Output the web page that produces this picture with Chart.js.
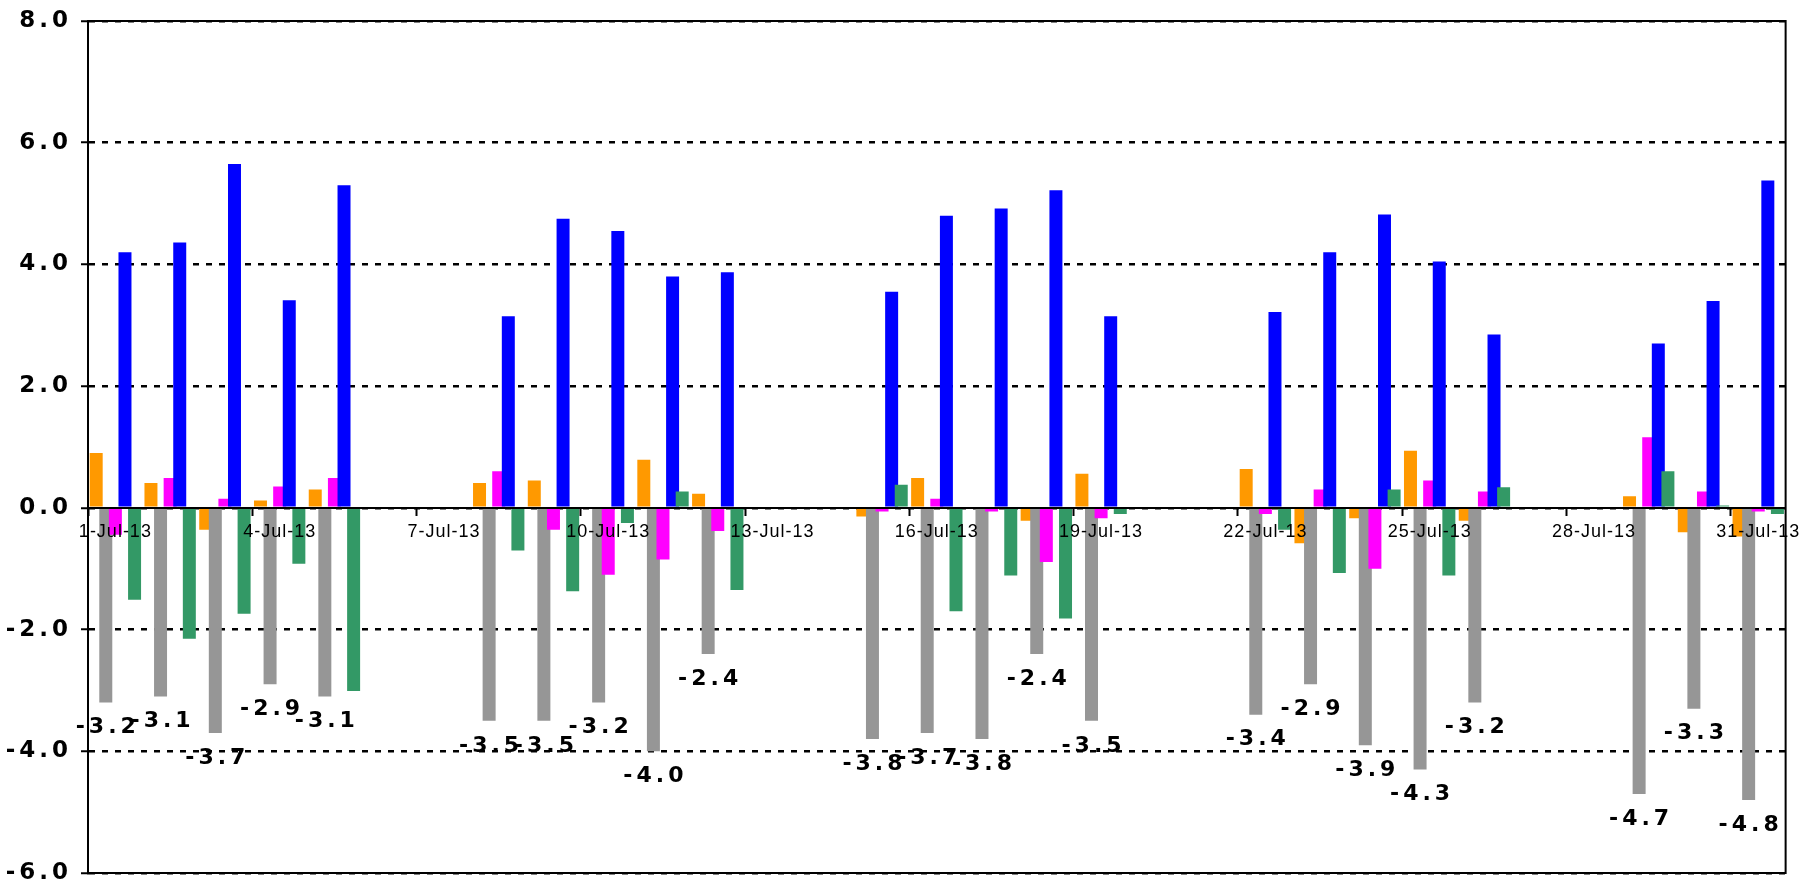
<!DOCTYPE html>
<html>
<head>
<meta charset="utf-8">
<script src="https://cdn.jsdelivr.net/npm/chart.js@4.4.1/dist/chart.umd.min.js"></script>
<style>
  html, body { margin: 0; padding: 0; background: #ffffff; }
  #wrap { width: 1802px; height: 884px; }
</style>
</head>
<body>
<div id="wrap"><canvas id="c" width="1802" height="884"></canvas></div>
<script>
// ---- Data ----
const dateLabels = [
  '1-Jul-13','2-Jul-13','3-Jul-13','4-Jul-13','5-Jul-13','6-Jul-13','7-Jul-13',
  '8-Jul-13','9-Jul-13','10-Jul-13','11-Jul-13','12-Jul-13','13-Jul-13','14-Jul-13',
  '15-Jul-13','16-Jul-13','17-Jul-13','18-Jul-13','19-Jul-13','20-Jul-13','21-Jul-13',
  '22-Jul-13','23-Jul-13','24-Jul-13','25-Jul-13','26-Jul-13','27-Jul-13','28-Jul-13',
  '29-Jul-13','30-Jul-13','31-Jul-13'
];
// weekends (6-7, 13-14, 20-21, 27-28 Jul) have no values
const orangeValues = [0.90, 0.41, -0.36, 0.12, 0.30, null, null,
  0.41, 0.45, 0.00, 0.79, 0.23, null, null,
  -0.14, 0.49, 0.00, -0.21, 0.56, null, null,
  0.64, -0.58, -0.17, 0.94, -0.21, null, null,
  0.19, -0.40, -0.47];
const grayValues = [-3.2, -3.1, -3.7, -2.9, -3.1, null, null,
  -3.5, -3.5, -3.2, -4.0, -2.4, null, null,
  -3.8, -3.7, -3.8, -2.4, -3.5, null, null,
  -3.4, -2.9, -3.9, -4.3, -3.2, null, null,
  -4.7, -3.3, -4.8];
const magentaValues = [-0.44, 0.49, 0.15, 0.35, 0.49, null, null,
  0.60, -0.36, -1.10, -0.85, -0.38, null, null,
  -0.06, 0.15, -0.06, -0.89, -0.17, null, null,
  -0.10, 0.30, -1.00, 0.45, 0.27, null, null,
  1.16, 0.27, -0.06];
const blueValues = [4.20, 4.36, 5.65, 3.41, 5.30, null, null,
  3.15, 4.75, 4.55, 3.80, 3.87, null, null,
  3.55, 4.80, 4.92, 5.22, 3.15, null, null,
  3.22, 4.20, 4.82, 4.05, 2.85, null, null,
  2.70, 3.40, 5.38];
const greenValues = [-1.51, -2.15, -1.74, -0.92, -3.01, null, null,
  -0.70, -1.37, -0.25, 0.27, -1.35, null, null,
  0.38, -1.70, -1.11, -1.82, -0.10, null, null,
  -0.36, -1.07, 0.30, -1.11, 0.34, null, null,
  0.60, 0.04, -0.10];
const yTickStep = 2;
const yMin = -6;
const yMax = 8;

// ---- Plugins ----
// Draw datasets in series order so that later series lie on top (as in the reference)
const drawOrderPlugin = {
  id: 'drawOrder',
  beforeDatasetsDraw(chart) {
    const metas = chart.getSortedVisibleDatasetMetas();
    for (const meta of metas) chart._drawDataset(meta);
    return false;
  }
};

// Letter spacing for axis labels
const spacingPlugin = {
  id: 'spacing',
  afterLayout(chart) {
    const cfg = { x: '1px', y: '4px' };
    Object.keys(cfg).forEach(id => {
      const s = chart.scales[id];
      if (!s || s._spacingWrapped) return;
      const orig = s.drawLabels;
      s.drawLabels = function (area) {
        const c = this.ctx;
        c.save();
        c.letterSpacing = cfg[id];
        orig.call(this, area);
        c.restore();
      };
      s._spacingWrapped = true;
    });
  }
};

// Value labels under the gray bars + plot frame
const labelFramePlugin = {
  id: 'labelFrame',
  afterDraw(chart) {
    const ctx = chart.ctx;
    const area = chart.chartArea;
    ctx.save();
    ctx.strokeStyle = '#000';
    ctx.lineWidth = 2;
    ctx.beginPath();
    ctx.moveTo(area.left, area.top);
    ctx.lineTo(area.right, area.top);
    ctx.lineTo(area.right, area.bottom);
    ctx.lineTo(area.left, area.bottom);
    ctx.stroke();
    ctx.restore();

    const idx = chart.data.datasets.findIndex(d => d.showLabels);
    if (idx < 0) return;
    const meta = chart.getDatasetMeta(idx);
    const data = chart.data.datasets[idx].data;
    ctx.save();
    ctx.letterSpacing = '4px';
    ctx.font = 'bold 22px "DejaVu Sans"';
    ctx.fillStyle = '#000';
    ctx.textAlign = 'center';
    ctx.textBaseline = 'middle';
    meta.data.forEach((el, i) => {
      const v = data[i];
      if (v === null || v === undefined) return;
      const off = v < 0 ? 25 : -25;
      ctx.fillText(v.toFixed(1), el.x + 2, el.y + off);
    });
    ctx.restore();
  }
};

const commonBar = { categoryPercentage: 0.876, barPercentage: 1.354, borderWidth: 0 };

new Chart(document.getElementById('c'), {
  type: 'bar',
  data: {
    labels: dateLabels,
    datasets: [
      Object.assign({ label: 'Orange', data: orangeValues, backgroundColor: '#FF9900' }, commonBar),
      Object.assign({ label: 'Gray', data: grayValues, backgroundColor: '#969696', showLabels: true }, commonBar),
      Object.assign({ label: 'Magenta', data: magentaValues, backgroundColor: '#FF00FF' }, commonBar),
      Object.assign({ label: 'Blue', data: blueValues, backgroundColor: '#0000FF' }, commonBar),
      Object.assign({ label: 'Green', data: greenValues, backgroundColor: '#339966' }, commonBar)
    ]
  },
  options: {
    responsive: false,
    animation: false,
    devicePixelRatio: 1,
    layout: { padding: { top: 21, right: 15, bottom: 11, left: 0 } },
    plugins: { legend: { display: false }, tooltip: { enabled: false } },
    scales: {
      x: {
        type: 'category',
        position: { y: 0 },
        offset: true,
        grid: {
          offset: true,
          drawOnChartArea: false,
          drawTicks: true,
          tickLength: 7,
          tickWidth: 2,
          tickColor: (c) => (c.index % 3 === 0 ? '#000' : 'rgba(0,0,0,0)'),
          z: 1
        },
        border: { display: true, color: '#000', width: 2, z: 1 },
        ticks: {
          z: 2,
          autoSkip: false,
          maxRotation: 0,
          minRotation: 0,
          padding: 6,
          color: '#000',
          font: { family: '"Liberation Sans", Arial, sans-serif', size: 18 },
          callback: (v, i) => (i % 3 === 0 ? dateLabels[i] : '')
        }
      },
      y: {
        min: yMin,
        max: yMax,
        ticks: {
          stepSize: yTickStep,
          padding: 9,
          color: '#000',
          font: { family: '"DejaVu Sans", sans-serif', size: 23, weight: 'bold', lineHeight: 0.1 },
          callback: (v) => Number(v).toFixed(1)
        },
        grid: {
          color: '#000',
          lineWidth: 2.5,
          drawTicks: true,
          tickLength: 7,
          tickWidth: 2,
          tickColor: '#000',
          tickBorderDash: []
        },
        border: { display: true, color: '#000', width: 2, dash: [6, 7], z: 1 },
        afterFit: (s) => { s.width = 88; }
      }
    }
  },
  plugins: [drawOrderPlugin, spacingPlugin, labelFramePlugin]
});
</script>
</body>
</html>
